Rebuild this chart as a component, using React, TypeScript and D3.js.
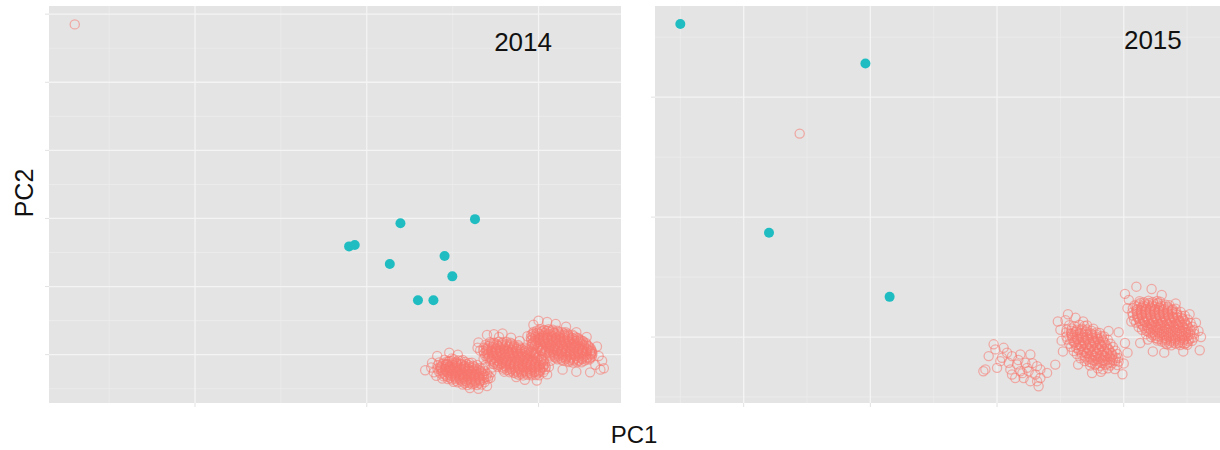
import { useMemo } from "react";
import * as d3 from "d3";

const WIDTH = 1220;
const HEIGHT = 450;

const PINK = "#F8766D";
const TEAL = "#1FBDC1";
const PANEL_BG = "#E4E4E4";
const FONT = "Arial, 'Liberation Sans', Helvetica, sans-serif";

// ---- 2014 panel: ticks / domains (axis labels are blank in the original) ----
const X14_DOMAIN = [-18.5, 14.8];
const Y14_DOMAIN = [-7.1, 51.2];
const X14_MAJOR = [-10, 0, 10];
const X14_MINOR = [-15, -5, 5];
const Y14_MAJOR = [0, 10, 20, 30, 40, 50];
const Y14_MINOR = [-5, 5, 15, 25, 35, 45];

// teal group, 2014 (x, y pairs)
const TEAL_14 = [
  -1.03, 15.9, -0.7, 16.1, 1.96, 19.3, 6.3, 19.9, 1.34, 13.3, 4.53, 14.5,
  4.98, 11.5, 2.98, 8.0, 3.88, 8.0,
];

// pink group, 2014: lone point + three clusters
const PINK_14_OUT = [-17.0, 48.5];

const PINK_14_A = [
  4.52, -0.75, 4.81, -0.92, 5.07, -0.68, 5.33, -0.86, 5.58, -0.79, 4.95, -0.55,
  4.21, -1.14, 4.47, -1.31, 4.74, -1.08, 4.98, -1.26, 5.22, -1.17, 5.49, -1.33,
  5.73, -1.09, 5.96, -1.24, 6.12, -1.18, 4.62, -1.36,
  4.12, -1.58, 4.36, -1.66, 4.58, -1.52, 4.83, -1.71, 5.04, -1.55, 5.27, -1.64,
  5.51, -1.49, 5.72, -1.68, 5.95, -1.57, 6.19, -1.62, 6.43, -1.53, 4.71, -1.44, 5.63, -1.75,
  4.11, -2.03, 4.33, -1.94, 4.55, -2.09, 4.79, -1.97, 5.01, -2.05, 5.24, -1.91,
  5.46, -2.08, 5.69, -1.99, 5.9, -2.06, 6.13, -1.93, 6.35, -2.04, 6.58, -1.96, 6.74, -2.07, 4.92, -2.12,
  4.18, -2.43, 4.4, -2.35, 4.63, -2.46, 4.85, -2.37, 5.08, -2.44, 5.3, -2.32,
  5.52, -2.47, 5.75, -2.38, 5.97, -2.45, 6.2, -2.34, 6.42, -2.48, 6.64, -2.39, 6.88, -2.42, 5.19, -2.52,
  4.3, -2.77, 4.52, -2.86, 4.75, -2.74, 4.97, -2.83, 5.2, -2.78, 5.42, -2.88,
  5.65, -2.75, 5.87, -2.84, 6.1, -2.79, 6.32, -2.87, 6.55, -2.76, 6.77, -2.85, 7.01, -2.8, 5.55, -2.92,
  4.47, -3.18, 4.7, -3.25, 4.92, -3.13, 5.14, -3.22, 5.37, -3.16, 5.6, -3.27,
  5.82, -3.14, 6.05, -3.23, 6.27, -3.17, 6.5, -3.26, 6.72, -3.12, 6.95, -3.21, 7.1, -3.15,
  4.72, -3.57, 4.95, -3.66, 5.18, -3.54, 5.41, -3.63, 5.64, -3.58, 5.88, -3.67,
  6.11, -3.55, 6.34, -3.64, 6.57, -3.59, 6.8, -3.68, 7.05, -3.56,
  5.05, -3.97, 5.3, -4.06, 5.56, -3.95, 5.82, -4.04, 6.07, -3.98, 6.33, -4.07, 6.6, -3.96, 6.86, -4.03,
  5.58, -4.38, 5.86, -4.47, 6.13, -4.36, 6.41, -4.45, 6.68, -4.4,
  3.4, -2.3, 3.8, -1.2, 4.1, -0.2, 4.8, 0.3, 3.9, -2.6, 4.4, -3.5, 6.0, -4.9,
  6.5, -5.0, 7.0, -4.6, 7.2, -3.4, 5.3, 0.0, 3.75, -1.9, 4.05, -3.1, 7.25, -2.6, 6.9, -1.5,
];
// inner rows of cluster A (the core reads as solid)
const PINK_14_A_CORE = [
  4.65, -1.02, 4.93, -0.97, 5.21, -1.04, 5.49, -0.95,
  4.4, -1.42, 4.68, -1.37, 4.96, -1.45, 5.24, -1.38, 5.52, -1.43, 5.8, -1.36,
  4.3, -1.81, 4.58, -1.77, 4.86, -1.84, 5.14, -1.78, 5.42, -1.83, 5.7, -1.76, 5.98, -1.82, 6.26, -1.79,
  4.3, -2.22, 4.58, -2.17, 4.86, -2.24, 5.14, -2.18, 5.42, -2.23, 5.7, -2.16, 5.98, -2.21, 6.26, -2.19, 6.54, -2.24,
  4.42, -2.61, 4.7, -2.57, 4.98, -2.64, 5.26, -2.58, 5.54, -2.63, 5.82, -2.56, 6.1, -2.62, 6.38, -2.59, 6.66, -2.63,
  4.6, -3.02, 4.88, -2.97, 5.16, -3.04, 5.44, -2.98, 5.72, -3.03, 6.0, -2.96, 6.28, -3.01, 6.56, -2.99, 6.84, -3.03,
  4.85, -3.41, 5.13, -3.37, 5.41, -3.44, 5.69, -3.38, 5.97, -3.43, 6.25, -3.36, 6.53, -3.42, 6.81, -3.39,
  5.2, -3.82, 5.48, -3.77, 5.76, -3.84, 6.04, -3.78, 6.32, -3.83, 6.6, -3.79,
  5.7, -4.21, 5.98, -4.17, 6.26, -4.23, 6.54, -4.19,
];

const PINK_14_B = [
  7.17, 1.83, 7.41, 1.74, 7.66, 1.86, 7.9, 1.77, 8.14, 1.85, 8.36, 1.76,
  6.9, 1.43, 7.14, 1.35, 7.37, 1.46, 7.61, 1.37, 7.85, 1.44, 8.09, 1.33, 8.33, 1.45, 8.57, 1.38, 8.81, 1.42,
  6.8, 1.02, 7.04, 0.94, 7.28, 1.05, 7.52, 0.96, 7.76, 1.03, 8.0, 0.93, 8.24, 1.06,
  8.48, 0.97, 8.72, 1.04, 8.96, 0.95, 9.2, 1.01,
  6.78, 0.57, 7.02, 0.65, 7.26, 0.54, 7.5, 0.63, 7.74, 0.56, 7.98, 0.66, 8.22, 0.55,
  8.46, 0.64, 8.7, 0.57, 8.94, 0.62, 9.18, 0.53, 9.42, 0.65, 9.58, 0.58,
  6.83, 0.23, 7.07, 0.15, 7.31, 0.26, 7.55, 0.17, 7.79, 0.24, 8.03, 0.14, 8.27, 0.25,
  8.51, 0.16, 8.75, 0.22, 8.99, 0.13, 9.23, 0.26, 9.47, 0.18, 9.71, 0.24, 9.83, 0.15,
  6.9, -0.17, 7.14, -0.25, 7.38, -0.14, 7.62, -0.23, 7.86, -0.16, 8.1, -0.26, 8.34, -0.15,
  8.58, -0.24, 8.82, -0.18, 9.06, -0.27, 9.3, -0.14, 9.54, -0.22, 9.78, -0.17, 10.02, -0.25,
  7.03, -0.57, 7.27, -0.65, 7.51, -0.55, 7.75, -0.63, 7.99, -0.58, 8.23, -0.66, 8.47, -0.54,
  8.71, -0.62, 8.95, -0.57, 9.19, -0.67, 9.43, -0.56, 9.67, -0.64, 9.91, -0.58, 10.15, -0.63,
  7.18, -0.97, 7.42, -1.05, 7.66, -0.94, 7.9, -1.04, 8.14, -0.96, 8.38, -1.06, 8.62, -0.95,
  8.86, -1.03, 9.1, -0.98, 9.34, -1.07, 9.58, -0.96, 9.82, -1.04, 10.06, -0.99, 10.29, -1.03,
  7.38, -1.37, 7.62, -1.45, 7.86, -1.35, 8.1, -1.44, 8.34, -1.38, 8.58, -1.46, 8.82, -1.34,
  9.06, -1.43, 9.3, -1.37, 9.54, -1.47, 9.78, -1.36, 10.02, -1.44, 10.26, -1.39, 10.38, -1.42,
  7.62, -1.77, 7.86, -1.85, 8.1, -1.76, 8.34, -1.84, 8.58, -1.78, 8.82, -1.86, 9.06, -1.75,
  9.3, -1.83, 9.54, -1.79, 9.78, -1.87, 10.02, -1.76, 10.26, -1.84, 10.42, -1.8,
  7.93, -2.17, 8.17, -2.25, 8.41, -2.15, 8.65, -2.24, 8.89, -2.18, 9.13, -2.26,
  9.37, -2.16, 9.61, -2.23, 9.85, -2.19, 10.09, -2.25, 10.38, -2.17,
  8.31, -2.57, 8.55, -2.65, 8.79, -2.56, 9.03, -2.64, 9.27, -2.58, 9.51, -2.66,
  9.75, -2.55, 9.99, -2.63, 10.28, -2.6,
  8.85, -2.97, 9.1, -3.05, 9.35, -2.96, 9.6, -3.04, 9.85, -2.98, 10.04, -3.03,
  6.5, 1.8, 6.6, 0.6, 7.0, 2.9, 7.4, 3.0, 7.9, 3.1, 8.4, 2.5, 6.8, -0.6, 7.3, -1.9,
  8.0, -2.5, 8.7, -3.3, 9.2, -3.7, 9.9, -3.8, 10.5, -2.9, 10.6, -1.8, 10.2, 0.6,
  6.45, 1.0, 8.9, 2.0, 9.6, 1.2, 7.7, 2.6, 10.7, -0.9,
];
const PINK_14_B_CORE = [
  7.25, 1.62, 7.55, 1.57, 7.85, 1.63, 8.15, 1.58, 8.45, 1.61,
  7.05, 1.22, 7.35, 1.17, 7.65, 1.23, 7.95, 1.18, 8.25, 1.21, 8.55, 1.16, 8.85, 1.2,
  6.95, 0.82, 7.25, 0.77, 7.55, 0.83, 7.85, 0.78, 8.15, 0.81, 8.45, 0.76, 8.75, 0.82, 9.05, 0.79, 9.3, 0.8,
  6.95, 0.42, 7.25, 0.37, 7.55, 0.43, 7.85, 0.38, 8.15, 0.41, 8.45, 0.36, 8.75, 0.42, 9.05, 0.39, 9.35, 0.43, 9.6, 0.38,
  7.0, 0.02, 7.3, -0.03, 7.6, 0.03, 7.9, -0.02, 8.2, 0.01, 8.5, -0.04, 8.8, 0.02, 9.1, -0.01, 9.4, 0.03, 9.7, -0.02,
  7.1, -0.38, 7.4, -0.43, 7.7, -0.37, 8.0, -0.42, 8.3, -0.39, 8.6, -0.44, 8.9, -0.38, 9.2, -0.41, 9.5, -0.37, 9.8, -0.42,
  7.25, -0.78, 7.55, -0.83, 7.85, -0.77, 8.15, -0.82, 8.45, -0.79, 8.75, -0.84, 9.05, -0.78, 9.35, -0.81, 9.65, -0.77, 9.95, -0.82, 10.15, -0.8,
  7.45, -1.18, 7.75, -1.23, 8.05, -1.17, 8.35, -1.22, 8.65, -1.19, 8.95, -1.24, 9.25, -1.18, 9.55, -1.21, 9.85, -1.17, 10.15, -1.22,
  7.7, -1.58, 8.0, -1.63, 8.3, -1.57, 8.6, -1.62, 8.9, -1.59, 9.2, -1.64, 9.5, -1.58, 9.8, -1.61, 10.1, -1.57, 10.3, -1.6,
  8.0, -1.98, 8.3, -2.03, 8.6, -1.97, 8.9, -2.02, 9.2, -1.99, 9.5, -2.04, 9.8, -1.98, 10.1, -2.01,
  8.35, -2.38, 8.65, -2.43, 8.95, -2.37, 9.25, -2.42, 9.55, -2.39, 9.85, -2.44, 10.1, -2.4,
  8.7, -2.78, 9.0, -2.83, 9.3, -2.77, 9.6, -2.82, 9.9, -2.79,
];

const PINK_14_C = [
  10.08, 3.72, 10.33, 3.64, 10.58, 3.75, 10.83, 3.66,
  9.7, 3.33, 9.94, 3.25, 10.18, 3.36, 10.42, 3.27, 10.66, 3.34, 10.9, 3.24, 11.14, 3.35, 11.38, 3.28, 11.58, 3.31,
  9.58, 2.92, 9.82, 2.84, 10.06, 2.95, 10.3, 2.86, 10.54, 2.93, 10.78, 2.83, 11.02, 2.96,
  11.26, 2.87, 11.5, 2.94, 11.74, 2.85, 11.98, 2.91,
  9.55, 2.47, 9.79, 2.55, 10.03, 2.44, 10.27, 2.53, 10.51, 2.46, 10.75, 2.56, 10.99, 2.45,
  11.23, 2.54, 11.47, 2.48, 11.71, 2.57, 11.95, 2.46, 12.19, 2.52, 12.3, 2.44,
  9.57, 2.13, 9.81, 2.05, 10.05, 2.16, 10.29, 2.07, 10.53, 2.14, 10.77, 2.04, 11.01, 2.15,
  11.25, 2.06, 11.49, 2.12, 11.73, 2.03, 11.97, 2.16, 12.21, 2.08, 12.45, 2.13, 12.56, 2.05,
  9.65, 1.67, 9.89, 1.75, 10.13, 1.64, 10.37, 1.73, 10.61, 1.66, 10.85, 1.76, 11.09, 1.65,
  11.33, 1.74, 11.57, 1.68, 11.81, 1.77, 12.05, 1.66, 12.29, 1.73, 12.53, 1.69, 12.76, 1.72,
  9.77, 1.33, 10.01, 1.25, 10.25, 1.36, 10.49, 1.27, 10.73, 1.34, 10.97, 1.24, 11.21, 1.35,
  11.45, 1.26, 11.69, 1.32, 11.93, 1.23, 12.17, 1.36, 12.41, 1.28, 12.65, 1.33, 12.91, 1.26,
  9.93, 0.87, 10.17, 0.95, 10.41, 0.84, 10.65, 0.93, 10.89, 0.86, 11.13, 0.96, 11.37, 0.85,
  11.61, 0.94, 11.85, 0.88, 12.09, 0.97, 12.33, 0.86, 12.57, 0.93, 12.81, 0.89, 13.04, 0.92,
  10.13, 0.53, 10.37, 0.45, 10.61, 0.56, 10.85, 0.47, 11.09, 0.54, 11.33, 0.44, 11.57, 0.55,
  11.81, 0.46, 12.05, 0.52, 12.29, 0.43, 12.53, 0.56, 12.77, 0.48, 13.01, 0.53, 13.12, 0.46,
  10.39, 0.07, 10.63, 0.15, 10.87, 0.04, 11.11, 0.13, 11.35, 0.06, 11.59, 0.16, 11.83, 0.05,
  12.07, 0.14, 12.31, 0.08, 12.55, 0.17, 12.79, 0.06, 13.03, 0.13, 13.14, 0.09,
  10.7, -0.27, 10.94, -0.35, 11.18, -0.26, 11.42, -0.34, 11.66, -0.28, 11.9, -0.36,
  12.14, -0.25, 12.38, -0.33, 12.62, -0.29, 12.86, -0.37, 13.1, -0.27,
  11.11, -0.67, 11.35, -0.75, 11.59, -0.66, 11.83, -0.74, 12.07, -0.68, 12.31, -0.76,
  12.55, -0.65, 12.79, -0.73, 12.97, -0.7,
  11.76, -1.07, 12.0, -1.15, 12.25, -1.06, 12.5, -1.13,
  9.7, 4.4, 10.0, 5.0, 10.5, 4.8, 11.0, 4.5, 11.6, 4.1, 9.6, 1.5, 9.8, 0.3, 10.3, -0.8,
  12.2, 3.3, 12.8, 2.6, 13.4, 1.2, 13.7, -0.9, 13.8, -2.0, 13.6, -2.2, 13.0, -2.6,
  12.2, -2.5, 11.4, -2.2, 13.5, -0.2, 13.3, -1.5, 9.35, 2.7,
];
const PINK_14_C_CORE = [
  9.9, 3.52, 10.2, 3.47, 10.5, 3.53, 10.8, 3.48, 11.1, 3.51,
  9.7, 3.12, 10.0, 3.07, 10.3, 3.13, 10.6, 3.08, 10.9, 3.11, 11.2, 3.06, 11.5, 3.12, 11.7, 3.09,
  9.65, 2.72, 9.95, 2.67, 10.25, 2.73, 10.55, 2.68, 10.85, 2.71, 11.15, 2.66, 11.45, 2.72, 11.75, 2.69, 12.05, 2.71,
  9.65, 2.32, 9.95, 2.27, 10.25, 2.33, 10.55, 2.28, 10.85, 2.31, 11.15, 2.26, 11.45, 2.32, 11.75, 2.29, 12.05, 2.33, 12.35, 2.28,
  9.7, 1.92, 10.0, 1.87, 10.3, 1.93, 10.6, 1.88, 10.9, 1.91, 11.2, 1.86, 11.5, 1.92, 11.8, 1.89, 12.1, 1.93, 12.4, 1.88, 12.6, 1.9,
  9.8, 1.52, 10.1, 1.47, 10.4, 1.53, 10.7, 1.48, 11.0, 1.51, 11.3, 1.46, 11.6, 1.52, 11.9, 1.49, 12.2, 1.53, 12.5, 1.48, 12.8, 1.5,
  9.95, 1.12, 10.25, 1.07, 10.55, 1.13, 10.85, 1.08, 11.15, 1.11, 11.45, 1.06, 11.75, 1.12, 12.05, 1.09, 12.35, 1.13, 12.65, 1.08, 12.95, 1.1,
  10.15, 0.72, 10.45, 0.67, 10.75, 0.73, 11.05, 0.68, 11.35, 0.71, 11.65, 0.66, 11.95, 0.72, 12.25, 0.69, 12.55, 0.73, 12.85, 0.68, 13.05, 0.7,
  10.4, 0.32, 10.7, 0.27, 11.0, 0.33, 11.3, 0.28, 11.6, 0.31, 11.9, 0.26, 12.2, 0.32, 12.5, 0.29, 12.8, 0.33, 13.1, 0.28,
  10.65, -0.08, 10.95, -0.13, 11.25, -0.07, 11.55, -0.12, 11.85, -0.09, 12.15, -0.14, 12.45, -0.08, 12.75, -0.11, 13.05, -0.07,
  11.0, -0.48, 11.3, -0.53, 11.6, -0.47, 11.9, -0.52, 12.2, -0.49, 12.5, -0.54, 12.8, -0.48, 13.0, -0.51,
  11.45, -0.88, 11.75, -0.93, 12.05, -0.87, 12.35, -0.92, 12.65, -0.89,
];

// ---- 2015 panel ----
const X15_DOMAIN = [-17, 27.6];
const Y15_DOMAIN = [-5.5, 27.6];
const X15_MAJOR = [-10, 0, 10, 20];
const X15_MINOR = [-15, -5, 5, 15, 25];
const Y15_MAJOR = [0, 10, 20];
const Y15_MINOR = [-5, 5, 15, 25];

const TEAL_15 = [-15.0, 26.1, -0.39, 22.8, -8.0, 8.7, 1.52, 3.35];

const PINK_15_OUT = [-5.58, 16.96];

const PINK_15_A = [
  9.73, -0.61, 9.87, -1.03, 9.34, -1.59, 10.52, -0.9, 11.18, -1.59, 11.84, -1.45,
  12.63, -1.45, 10.26, -2.01, 10.92, -2.15, 11.58, -2.28, 12.23, -2.15, 13.16, -2.43,
  13.42, -2.7, 10.0, -2.57, 9.08, -2.7, 11.05, -2.7, 11.84, -2.85, 12.49, -2.85,
  13.02, -3.12, 11.44, -3.41, 12.1, -3.41, 13.42, -3.41, 13.16, -3.68, 13.28, -4.1,
  12.63, -3.68, 11.18, -3.12, 10.39, -1.73, 10.79, -1.31, 12.37, -2.57, 13.95, -2.99,
  8.92, -2.85, 11.68, -1.92, 12.79, -2.18, 12.0, -3.01,
];

const PINK_15_B = [
  15.7, 0.99, 16.1, 0.91, 16.5, 1.02, 16.9, 0.93, 17.1, 0.97,
  15.5, 0.63, 15.9, 0.71, 16.3, 0.6, 16.7, 0.69, 17.1, 0.62, 17.6, 0.7,
  15.45, 0.39, 15.85, 0.31, 16.25, 0.42, 16.65, 0.33, 17.05, 0.4, 17.45, 0.3, 17.85, 0.38, 18.1, 0.34,
  15.48, 0.03, 15.88, 0.11, 16.28, 0.0, 16.68, 0.09, 17.08, 0.02, 17.48, 0.12, 17.88, 0.01, 18.28, 0.08, 18.45, 0.04,
  15.56, -0.21, 15.96, -0.29, 16.36, -0.18, 16.76, -0.27, 17.16, -0.2, 17.56, -0.3, 17.96, -0.19, 18.36, -0.26, 18.74, -0.22,
  15.7, -0.57, 16.1, -0.49, 16.5, -0.6, 16.9, -0.51, 17.3, -0.58, 17.7, -0.48, 18.1, -0.59, 18.5, -0.5, 18.95, -0.56,
  15.85, -0.81, 16.25, -0.89, 16.65, -0.78, 17.05, -0.87, 17.45, -0.8, 17.85, -0.9, 18.25, -0.79, 18.65, -0.86, 19.15, -0.82,
  16.05, -1.17, 16.45, -1.09, 16.85, -1.2, 17.25, -1.11, 17.65, -1.18, 18.05, -1.08, 18.45, -1.19, 18.85, -1.1, 19.35, -1.15,
  16.3, -1.41, 16.7, -1.49, 17.1, -1.38, 17.5, -1.47, 17.9, -1.4, 18.3, -1.5, 18.7, -1.39, 19.1, -1.46, 19.48, -1.42,
  16.58, -1.77, 16.98, -1.69, 17.38, -1.8, 17.78, -1.71, 18.18, -1.78, 18.58, -1.68, 18.98, -1.79, 19.38, -1.72, 19.58, -1.75,
  16.92, -2.01, 17.32, -2.09, 17.72, -1.98, 18.12, -2.07, 18.52, -2.0, 18.92, -2.1, 19.32, -1.99, 19.6, -2.05,
  17.35, -2.37, 17.75, -2.29, 18.15, -2.4, 18.55, -2.31, 18.95, -2.38, 19.5, -2.33,
  17.95, -2.61, 18.35, -2.69, 18.75, -2.6, 19.3, -2.66,
  14.6, -2.3, 14.8, 1.3, 15.2, -1.2, 15.6, 1.9, 16.2, 1.6, 16.8, 1.3, 15.0, 0.6, 15.1, -0.3,
  18.8, 0.5, 19.6, 0.4, 20.1, -0.5, 20.3, -1.3, 17.5, -3.0, 18.2, -2.9, 16.4, -2.3,
  19.9, -3.1, 20.0, -2.2, 15.4, 1.4,
];
const PINK_15_B_CORE = [
  15.85, 0.53, 16.25, 0.48, 16.65, 0.54, 17.05, 0.49, 17.45, 0.52,
  15.9, 0.23, 16.3, 0.18, 16.7, 0.24, 17.1, 0.19, 17.5, 0.22, 17.85, 0.2,
  15.95, -0.07, 16.35, -0.12, 16.75, -0.06, 17.15, -0.11, 17.55, -0.08, 17.95, -0.13, 18.2, -0.1,
  16.1, -0.37, 16.5, -0.42, 16.9, -0.36, 17.3, -0.41, 17.7, -0.38, 18.1, -0.43, 18.4, -0.4,
  16.25, -0.67, 16.65, -0.72, 17.05, -0.66, 17.45, -0.71, 17.85, -0.68, 18.25, -0.73, 18.65, -0.7,
  16.45, -0.97, 16.85, -1.02, 17.25, -0.96, 17.65, -1.01, 18.05, -0.98, 18.45, -1.03, 18.8, -1.0,
  16.65, -1.27, 17.05, -1.32, 17.45, -1.26, 17.85, -1.31, 18.25, -1.28, 18.65, -1.33, 19.0, -1.3,
  16.9, -1.57, 17.3, -1.62, 17.7, -1.56, 18.1, -1.61, 18.5, -1.58, 18.9, -1.63, 19.1, -1.6,
  17.15, -1.87, 17.55, -1.92, 17.95, -1.86, 18.35, -1.91, 18.75, -1.88, 19.15, -1.9,
  17.5, -2.17, 17.9, -2.22, 18.3, -2.16, 18.7, -2.21, 19.1, -2.18,
];

const PINK_15_C = [
  21.25, 2.99, 21.6, 2.91, 21.95, 3.02, 22.3, 2.93, 22.65, 3.0, 22.88, 2.94,
  20.85, 2.64, 21.2, 2.72, 21.55, 2.61, 21.9, 2.7, 22.25, 2.63, 22.6, 2.73, 22.95, 2.62, 23.3, 2.69, 23.6, 2.65,
  20.72, 2.4, 21.07, 2.32, 21.42, 2.43, 21.77, 2.34, 22.12, 2.41, 22.47, 2.31, 22.82, 2.42,
  23.17, 2.33, 23.52, 2.39, 23.87, 2.3, 24.1, 2.36,
  20.68, 2.04, 21.03, 2.12, 21.38, 2.01, 21.73, 2.1, 22.08, 2.03, 22.43, 2.13, 22.78, 2.02,
  23.13, 2.09, 23.48, 2.05, 23.83, 2.14, 24.18, 2.03, 24.5, 2.08,
  20.72, 1.8, 21.07, 1.72, 21.42, 1.83, 21.77, 1.74, 22.12, 1.81, 22.47, 1.71, 22.82, 1.82,
  23.17, 1.73, 23.52, 1.79, 23.87, 1.7, 24.22, 1.83, 24.57, 1.75, 24.82, 1.78,
  20.82, 1.44, 21.17, 1.52, 21.52, 1.41, 21.87, 1.5, 22.22, 1.43, 22.57, 1.53, 22.92, 1.42,
  23.27, 1.49, 23.62, 1.45, 23.97, 1.54, 24.32, 1.43, 24.67, 1.51, 25.05, 1.46,
  20.97, 1.2, 21.32, 1.12, 21.67, 1.23, 22.02, 1.14, 22.37, 1.21, 22.72, 1.11, 23.07, 1.22,
  23.42, 1.13, 23.77, 1.19, 24.12, 1.1, 24.47, 1.23, 24.82, 1.15, 25.28, 1.18,
  21.18, 0.84, 21.53, 0.92, 21.88, 0.81, 22.23, 0.9, 22.58, 0.83, 22.93, 0.93, 23.28, 0.82,
  23.63, 0.89, 23.98, 0.85, 24.33, 0.94, 24.68, 0.83, 25.03, 0.91, 25.42, 0.86,
  21.44, 0.6, 21.79, 0.52, 22.14, 0.63, 22.49, 0.54, 22.84, 0.61, 23.19, 0.51, 23.54, 0.62,
  23.89, 0.53, 24.24, 0.59, 24.59, 0.5, 24.94, 0.63, 25.29, 0.55, 25.54, 0.58,
  21.76, 0.24, 22.11, 0.32, 22.46, 0.21, 22.81, 0.3, 23.16, 0.23, 23.51, 0.33, 23.86, 0.22,
  24.21, 0.29, 24.56, 0.25, 24.91, 0.34, 25.26, 0.23, 25.58, 0.28,
  22.16, 0.0, 22.51, -0.08, 22.86, 0.03, 23.21, -0.06, 23.56, 0.01, 23.91, -0.09,
  24.26, 0.02, 24.61, -0.07, 24.96, -0.01, 25.31, -0.1, 25.54, -0.04,
  22.66, -0.3, 23.01, -0.38, 23.36, -0.27, 23.71, -0.36, 24.06, -0.29, 24.41, -0.39,
  24.76, -0.28, 25.11, -0.35, 25.4, -0.31,
  23.4, -0.6, 23.75, -0.68, 24.1, -0.57, 24.45, -0.66, 24.8, -0.59, 25.02, -0.65,
  20.1, 3.6, 20.3, 2.4, 21.3, -0.5, 22.3, -1.2, 24.7, -1.2, 25.9, 0.5, 20.6, 1.3,
  21.0, 4.2, 22.2, 4.0, 23.0, 3.5, 24.1, 2.8, 25.2, 1.9, 26.0, -1.1, 23.2, -1.3,
  21.9, -0.2, 26.1, 0.0, 20.4, 3.1, 25.7, 1.2,
];
const PINK_15_C_CORE = [
  21.3, 2.84, 21.65, 2.79, 22.0, 2.85, 22.35, 2.8, 22.7, 2.83,
  21.05, 2.54, 21.4, 2.49, 21.75, 2.55, 22.1, 2.5, 22.45, 2.53, 22.8, 2.48, 23.15, 2.54, 23.5, 2.51,
  21.0, 2.24, 21.35, 2.19, 21.7, 2.25, 22.05, 2.2, 22.4, 2.23, 22.75, 2.18, 23.1, 2.24, 23.45, 2.21, 23.8, 2.25,
  21.05, 1.94, 21.4, 1.89, 21.75, 1.95, 22.1, 1.9, 22.45, 1.93, 22.8, 1.88, 23.15, 1.94, 23.5, 1.91, 23.85, 1.95, 24.2, 1.9,
  21.1, 1.64, 21.45, 1.59, 21.8, 1.65, 22.15, 1.6, 22.5, 1.63, 22.85, 1.58, 23.2, 1.64, 23.55, 1.61, 23.9, 1.65, 24.25, 1.6, 24.55, 1.62,
  21.25, 1.34, 21.6, 1.29, 21.95, 1.35, 22.3, 1.3, 22.65, 1.33, 23.0, 1.28, 23.35, 1.34, 23.7, 1.31, 24.05, 1.35, 24.4, 1.3, 24.8, 1.32,
  21.45, 1.04, 21.8, 0.99, 22.15, 1.05, 22.5, 1.0, 22.85, 1.03, 23.2, 0.98, 23.55, 1.04, 23.9, 1.01, 24.25, 1.05, 24.6, 1.0, 24.95, 1.02,
  21.65, 0.74, 22.0, 0.69, 22.35, 0.75, 22.7, 0.7, 23.05, 0.73, 23.4, 0.68, 23.75, 0.74, 24.1, 0.71, 24.45, 0.75, 24.8, 0.7, 25.1, 0.72,
  21.95, 0.44, 22.3, 0.39, 22.65, 0.45, 23.0, 0.4, 23.35, 0.43, 23.7, 0.38, 24.05, 0.44, 24.4, 0.41, 24.75, 0.45, 25.1, 0.4,
  22.3, 0.14, 22.65, 0.09, 23.0, 0.15, 23.35, 0.1, 23.7, 0.13, 24.05, 0.08, 24.4, 0.14, 24.75, 0.11, 25.1, 0.15,
  22.7, -0.16, 23.05, -0.21, 23.4, -0.15, 23.75, -0.2, 24.1, -0.17, 24.45, -0.22, 24.8, -0.16, 25.15, -0.19,
  23.25, -0.46, 23.6, -0.51, 23.95, -0.45, 24.3, -0.5, 24.65, -0.47, 24.95, -0.49,
];

// panel labels, placed in data units
const LABEL_14 = { text: "2014", x: 9.1, y: 44.6 };
const LABEL_15 = { text: "2015", x: 22.3, y: 24.0 };

const pairs = (flat: number[]) =>
  d3.range(0, flat.length, 2).map((i) => [flat[i], flat[i + 1]] as [number, number]);

const PANELS = [
  {
    key: "2014",
    left: 49, right: 621, top: 6, bottom: 403,
    xDomain: X14_DOMAIN, yDomain: Y14_DOMAIN,
    xMajor: X14_MAJOR, xMinor: X14_MINOR, yMajor: Y14_MAJOR, yMinor: Y14_MINOR,
    pink: [
      PINK_14_OUT, PINK_14_A, PINK_14_A_CORE, PINK_14_B, PINK_14_B_CORE,
      PINK_14_C, PINK_14_C_CORE,
    ].flatMap(pairs),
    teal: pairs(TEAL_14),
    label: LABEL_14,
  },
  {
    key: "2015",
    left: 655, right: 1220, top: 6, bottom: 403,
    xDomain: X15_DOMAIN, yDomain: Y15_DOMAIN,
    xMajor: X15_MAJOR, xMinor: X15_MINOR, yMajor: Y15_MAJOR, yMinor: Y15_MINOR,
    pink: [
      PINK_15_OUT, PINK_15_A, PINK_15_B, PINK_15_B_CORE, PINK_15_C, PINK_15_C_CORE,
    ].flatMap(pairs),
    teal: pairs(TEAL_15),
    label: LABEL_15,
  },
];

function Panel({ p }: { p: (typeof PANELS)[number] }) {
  const { x, y } = useMemo(
    () => ({
      x: d3.scaleLinear().domain(p.xDomain).range([p.left, p.right]),
      y: d3.scaleLinear().domain(p.yDomain).range([p.bottom, p.top]),
    }),
    [p]
  );

  return (
    <g>
      <rect x={p.left} y={p.top} width={p.right - p.left} height={p.bottom - p.top} fill={PANEL_BG} />
      {/* minor grid */}
      {p.xMinor.map((t) => (
        <line key={"xm" + t} x1={x(t)} x2={x(t)} y1={p.top} y2={p.bottom} stroke="#ECECEC" strokeWidth={0.8} />
      ))}
      {p.yMinor.map((t) => (
        <line key={"ym" + t} x1={p.left} x2={p.right} y1={y(t)} y2={y(t)} stroke="#ECECEC" strokeWidth={0.8} />
      ))}
      {/* major grid */}
      {p.xMajor.map((t) => (
        <line key={"xM" + t} x1={x(t)} x2={x(t)} y1={p.top} y2={p.bottom} stroke="#F4F4F4" strokeWidth={1.3} />
      ))}
      {p.yMajor.map((t) => (
        <line key={"yM" + t} x1={p.left} x2={p.right} y1={y(t)} y2={y(t)} stroke="#F4F4F4" strokeWidth={1.3} />
      ))}
      {/* faint axis ticks */}
      {p.xMajor.map((t) => (
        <line key={"xt" + t} x1={x(t)} x2={x(t)} y1={p.bottom} y2={p.bottom + 4} stroke="#E2E2E2" strokeWidth={1} />
      ))}
      {p.yMajor.map((t) => (
        <line key={"yt" + t} x1={p.left - 4} x2={p.left} y1={y(t)} y2={y(t)} stroke="#E2E2E2" strokeWidth={1} />
      ))}

      {/* pink group: hollow circles */}
      {p.pink.map(([a, b], i) => (
        <circle
          key={"p" + i}
          cx={x(a)}
          cy={y(b)}
          r={4.6}
          fill="none"
          stroke={PINK}
          strokeWidth={1.25}
          strokeOpacity={0.55}
        />
      ))}
      {/* teal group: filled */}
      {p.teal.map(([a, b], i) => (
        <circle key={"t" + i} cx={x(a)} cy={y(b)} r={5} fill={TEAL} />
      ))}

      <text
        x={x(p.label.x)}
        y={y(p.label.y)}
        textAnchor="middle"
        fontSize={26}
        fontFamily={FONT}
        fill="#111">
        {p.label.text}
      </text>
    </g>
  );
}

export default function App() {
  return (
    <svg
      width={WIDTH}
      height={HEIGHT}
      style={{ position: "absolute", left: 0, top: 0, background: "#fff" }}>
      {PANELS.map((p) => (
        <Panel key={p.key} p={p} />
      ))}
      <text
        transform="translate(33,193) rotate(-90)"
        textAnchor="middle"
        fontSize={25}
        fontFamily={FONT}
        fill="#111">
        PC2
      </text>
      <text x={634} y={443} textAnchor="middle" fontSize={24} fontFamily={FONT} fill="#111">
        PC1
      </text>
    </svg>
  );
}
